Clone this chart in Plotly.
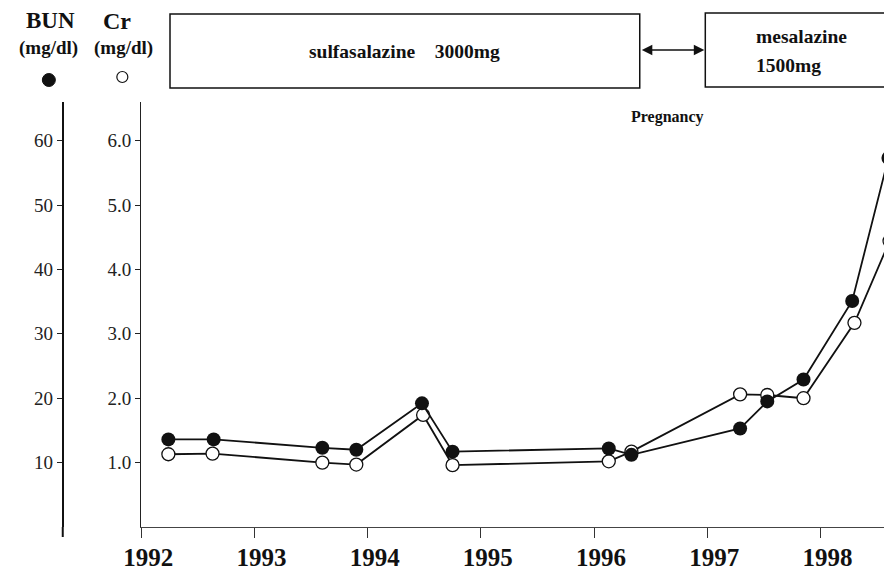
import plotly.graph_objects as go

# ---- data ----
bun_dates = [1992.24, 1992.64, 1993.60, 1993.90, 1994.48, 1994.75, 1996.13,
             1996.33, 1997.29, 1997.53, 1997.85, 1998.28, 1998.60]
bun_values = [13.6, 13.6, 12.3, 12.0, 19.2, 11.7, 12.2, 11.2, 15.3, 19.5, 22.9, 35.1, 57.3]

cr_dates = [1992.24, 1992.63, 1993.60, 1993.90, 1994.49, 1994.75, 1996.13,
            1996.33, 1997.29, 1997.53, 1997.85, 1998.30, 1998.61]
cr_values = [1.13, 1.14, 1.00, 0.97, 1.74, 0.96, 1.02, 1.17, 2.06, 2.05, 2.00, 3.17, 4.44]

year_ticks = [1992, 1993, 1994, 1995, 1996, 1997, 1998]
year_labels = ["1992", "1993", "1994", "1995", "1996", "1997", "1998"]
cr_ticks = [1, 2, 3, 4, 5, 6]
cr_labels = ["1.0", "2.0", "3.0", "4.0", "5.0", "6.0"]
bun_ticks = [10, 20, 30, 40, 50, 60]
bun_labels = ["10", "20", "30", "40", "50", "60"]

# the page has an 8px body margin, so the figure is drawn 8px in from the corner
OFF = 8
W, H = 892 - OFF, 573 - OFF
ML, MR, MT, MB = 12, 0, 94, 46
PW = W - ML - MR
PH = H - MT - MB
FONT = "Liberation Serif"
INK = "#111111"


def px(x):
    """reference page x -> paper fraction"""
    return (x - OFF - ML) / PW


def py(y):
    """reference page y -> paper fraction"""
    return (H - MB - (y - OFF)) / PH


fig = go.Figure()

fig.add_trace(go.Scatter(
    x=cr_dates, y=cr_values, mode="lines+markers", name="Cr",
    line=dict(color=INK, width=1.8),
    marker=dict(symbol="circle", size=13, color="white",
                line=dict(color=INK, width=1.3)),
    xaxis="x", yaxis="y", showlegend=False,
))
fig.add_trace(go.Scatter(
    x=bun_dates, y=bun_values, mode="lines+markers", name="BUN",
    line=dict(color=INK, width=1.8),
    marker=dict(symbol="circle", size=14, color=INK),
    xaxis="x", yaxis="y2", showlegend=False,
))

fig.update_layout(
    width=W, height=H,
    margin=dict(l=ML, r=MR, t=MT, b=MB),
    paper_bgcolor="white", plot_bgcolor="white",
    font=dict(family=FONT, color=INK),
    xaxis=dict(
        domain=[px(136), 1], range=[1992, 1992 + (892 - 136) / 114.0],
        tickvals=year_ticks, ticktext=year_labels,
        tickfont=dict(family=FONT, size=25, color=INK, weight="bold"),
        ticks="outside", ticklen=10, tickwidth=1, tickcolor="#333",
        showline=True, linecolor="#444", linewidth=1,
        showgrid=False, zeroline=False, ticklabelshift=7,
        ticklabelstandoff=-2,
    ),
    yaxis=dict(
        range=[0, PH / 64.4], tickvals=cr_ticks, ticktext=cr_labels,
        tickfont=dict(family=FONT, size=19, color="#222"),
        ticks="outside", ticklen=5, tickwidth=1, tickcolor="#222",
        showline=True, linecolor="#222", linewidth=1.3,
        showgrid=False, zeroline=False, anchor="x",
    ),
    yaxis2=dict(
        range=[0, PH / 6.44], tickvals=bun_ticks, ticktext=bun_labels,
        tickfont=dict(family=FONT, size=19, color="#222"),
        ticks="outside", ticklen=5, tickwidth=1, tickcolor="#222",
        showline=True, linecolor=INK, linewidth=2,
        showgrid=False, zeroline=False,
        overlaying="y", anchor="free", position=px(57), side="left",
    ),
)

shapes = []
# BUN axis extends a little below the baseline
shapes.append(dict(type="line", xref="paper", yref="paper",
                   x0=px(57), x1=px(57), y0=py(537), y1=py(527),
                   line=dict(color=INK, width=2)))
# treatment boxes
shapes.append(dict(type="rect", xref="paper", yref="paper",
                   x0=px(165), x1=px(638), y0=py(88), y1=py(14),
                   line=dict(color=INK, width=1.5), fillcolor="rgba(0,0,0,0)"))
shapes.append(dict(type="rect", xref="paper", yref="paper",
                   x0=px(704), x1=px(905), y0=py(87), y1=py(13),
                   line=dict(color=INK, width=1.5), fillcolor="rgba(0,0,0,0)"))
# legend symbols
shapes.append(dict(type="circle", xref="paper", yref="paper",
                   xsizemode="pixel", ysizemode="pixel",
                   xanchor=px(43), yanchor=py(80),
                   x0=-6.5, x1=6.5, y0=-6.5, y1=6.5,
                   fillcolor=INK, line=dict(color=INK, width=1)))
shapes.append(dict(type="circle", xref="paper", yref="paper",
                   xsizemode="pixel", ysizemode="pixel",
                   xanchor=px(117), yanchor=py(77),
                   x0=-5.5, x1=5.5, y0=-5.5, y1=5.5,
                   fillcolor="white", line=dict(color=INK, width=1.2)))
fig.update_layout(shapes=shapes)

anns = []


def txt(text, x, y, size, xanchor="center", bold=True):
    anns.append(dict(text=text, x=px(x), y=py(y), xref="paper", yref="paper",
                     showarrow=False, xanchor=xanchor, yanchor="middle",
                     font=dict(family=FONT, size=size, color=INK,
                               weight="bold" if bold else "normal")))


txt("BUN", 45, 21, 23)
txt("Cr", 112, 21, 24)
txt("(mg/dl)", 43, 48, 19)
txt("(mg/dl)", 118, 48, 19)
txt("sulfasalazine    3000mg", 401, 52, 19.5)
txt("mesalazine", 753, 36, 19.5, xanchor="left")
txt("1500mg", 753, 66, 19.5, xanchor="left")
txt("Pregnancy", 666, 117, 16)

# double-headed arrow between the two boxes
anns.append(dict(text="", x=px(703), y=py(50), xref="paper", yref="paper",
                 ax=-64, ay=0, axref="pixel", ayref="pixel",
                 showarrow=True, arrowhead=2, startarrowhead=2,
                 arrowside="end+start", arrowsize=1.4, startarrowsize=1.4,
                 arrowwidth=1.5, arrowcolor=INK))
fig.update_layout(annotations=anns)

fig.write_html("out.html")
